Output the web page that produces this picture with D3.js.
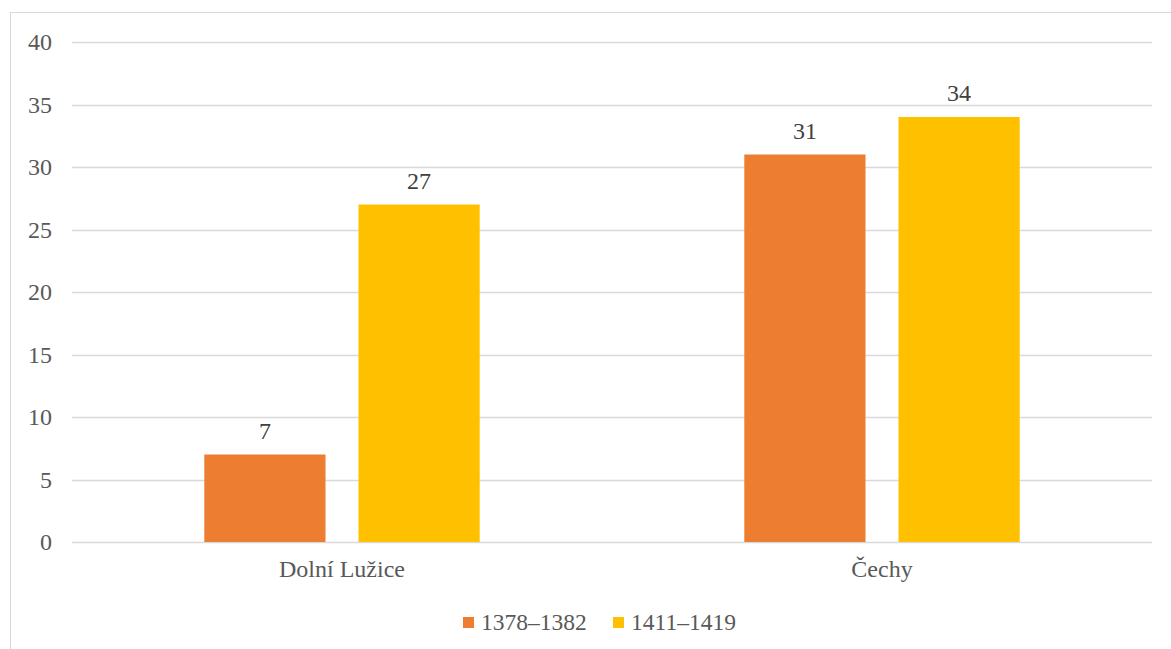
<!DOCTYPE html>
<html><head><meta charset="utf-8">
<script src="https://cdn.jsdelivr.net/npm/d3@7"></script>
</head><body style="margin:0">
<svg id="c" width="1171" height="649" font-family="Liberation Serif"></svg>
<script>
const categories = ["Dolní Lužice", "Čechy"];
const seriesNames = ["1378–1382", "1411–1419"];
const series1 = [7, 31];
const series2 = [27, 34];
const yTicks = [0, 5, 10, 15, 20, 25, 30, 35, 40];
const colors = ["#ED7D31", "#FFC000"];

(function () {
const F = '"Liberation Serif"';
const svg = d3.select("#c");
svg.append("rect").attr("x", 10.5).attr("y", 12.5).attr("width", 1200).attr("height", 700)
  .attr("fill", "#fff").attr("stroke", "#d9d9d9").attr("stroke-width", 1);

const pl = 72, pr = 1152, pt = 42, pb = 542;
const y = d3.scaleLinear().domain([0, 40]).range([pb, pt]);
const x0 = d3.scaleBand().domain(categories).range([pl, pr]).paddingInner(0.49).paddingOuter(0.245);
const x1 = d3.scaleBand().domain(seriesNames).range([0, x0.bandwidth()]).paddingInner(0.214);

svg.append("g").selectAll("line").data(yTicks).join("line")
  .attr("x1", pl).attr("x2", pr)
  .attr("y1", d => Math.round(y(d)) + 0.5).attr("y2", d => Math.round(y(d)) + 0.5)
  .attr("stroke", "#d9d9d9").attr("stroke-width", 1.5);

// y tick labels
svg.append("g").selectAll("text").data(yTicks).join("text")
  .attr("x", 52).attr("y", d => y(d) + 8)
  .attr("text-anchor", "end").attr("font-size", 24).attr("fill", "#595959")
  .style("font-family", F).text(d => d);

const data = categories.map((c, i) => ({cat: c, vals: [series1[i], series2[i]]}));
const groups = svg.append("g").selectAll("g").data(data).join("g")
  .attr("transform", d => `translate(${x0(d.cat)},0)`);
groups.selectAll("rect").data(d => d.vals.map((v, j) => ({v, s: seriesNames[j], j})))
  .join("rect")
  .attr("x", d => x1(d.s)).attr("width", x1.bandwidth())
  .attr("y", d => y(d.v)).attr("height", d => y(0) - y(d.v))
  .attr("fill", d => colors[d.j]);
groups.selectAll("text").data(d => d.vals.map((v, j) => ({v, s: seriesNames[j], j})))
  .join("text")
  .attr("x", d => x1(d.s) + x1.bandwidth() / 2).attr("y", d => y(d.v) - 16)
  .attr("text-anchor", "middle").attr("font-size", 24).attr("fill", "#404040")
  .style("font-family", F).text(d => d.v);

// category labels
svg.append("g").selectAll("text").data(categories).join("text")
  .attr("x", d => x0(d) + x0.bandwidth() / 2).attr("y", pb + 35)
  .attr("text-anchor", "middle").attr("font-size", 24).attr("fill", "#595959")
  .style("font-family", F).text(d => d);

const legX = [463, 613];
const leg = svg.append("g").selectAll("g").data(seriesNames).join("g")
  .attr("transform", (d, i) => `translate(${legX[i]},617)`);
leg.append("rect").attr("width", 11).attr("height", 11).attr("fill", (d, i) => colors[i]);
leg.append("text").attr("x", 18).attr("y", 13).attr("font-size", 23.5).attr("fill", "#595959")
  .style("font-family", F).text(d => d);
})();
</script></body></html>
